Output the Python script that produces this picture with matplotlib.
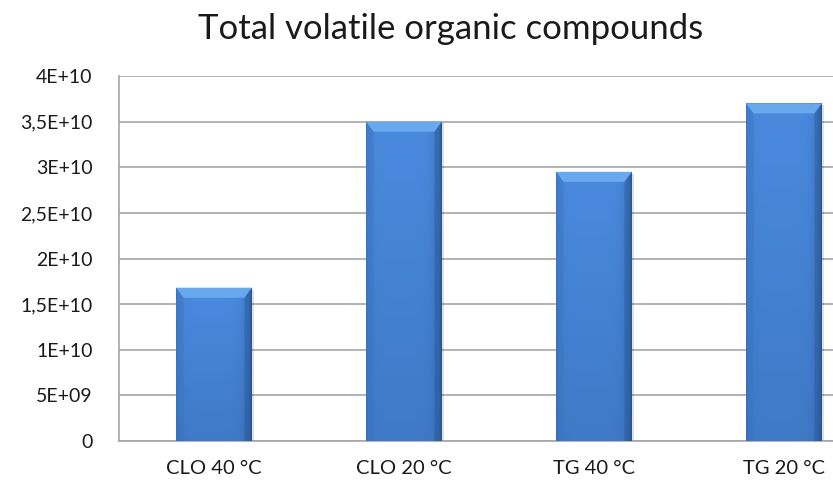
import matplotlib

matplotlib.use("Agg")
import matplotlib.pyplot as plt
import numpy as np
from matplotlib.colors import to_rgb
from matplotlib.patches import Polygon
from matplotlib.ticker import FuncFormatter, MultipleLocator

# values
categories = ["CLO 40 °C", "CLO 20 °C", "TG 40 °C", "TG 20 °C"]
tvoc = [1.68e10, 3.50e10, 2.95e10, 3.70e10]

plt.rcParams["font.family"] = ["Lato", "DejaVu Sans"]

BAR_WIDTH = 0.4
LIGHT = np.array(to_rgb("#4a8ade"))
DARK = np.array(to_rgb("#24508c"))


def excel_sci(v, _pos):
    # Excel style: 3,5E+10 / 5E+09 / 0
    if v == 0:
        return "0"
    exp = int(np.floor(np.log10(abs(v))))
    mant = v / 10 ** exp
    mant_txt = f"{mant:.1f}".rstrip("0").rstrip(".").replace(".", ",")
    return f"{mant_txt}E+{exp:02d}"


def bar_gradient():
    # horizontal profile: dark rims, bright a bit left of centre
    x = np.linspace(0, 1, 200)
    prof = 1 - 0.55 * np.clip(np.abs(x - 0.45) / 0.55, 0, 1) ** 6
    prof[:3] *= 0.8
    prof[-4:] *= 0.55
    # vertical: darker towards the base
    y = np.linspace(0, 1, 200)[:, None]
    shade = (0.72 + 0.28 * y) * prof[None, :]
    img = DARK + (LIGHT - DARK) * shade[..., None]
    return np.clip(img, 0, 1)


fig = plt.figure(figsize=(8.33, 4.86), dpi=100)
# the reference is cropped at the right edge, so the axes run past the figure
ax = fig.add_axes([119 / 833, 1 - 441 / 486, 760 / 833, 365 / 486])

xpos = np.arange(len(categories))
bars = ax.bar(xpos, tvoc, width=BAR_WIDTH, color="none", zorder=3)
grad = bar_gradient()

bevel_x = 0.04
bevel_y = 0.11e10
for rect in bars:
    x0, w, h = rect.get_x(), rect.get_width(), rect.get_height()
    # soft drop shadow
    ax.add_patch(plt.Rectangle((x0 + 0.012, 0), w, h - 0.02e10, color="#000000",
                               alpha=0.12, lw=0, zorder=2))
    im = ax.imshow(grad, extent=(x0, x0 + w, 0, h), origin="lower",
                   aspect="auto", zorder=3, interpolation="bilinear")
    im.set_clip_path(rect)
    # bevelled top
    ax.add_patch(Polygon([(x0, h), (x0 + w, h), (x0 + w - bevel_x, h - bevel_y),
                          (x0 + bevel_x, h - bevel_y)], closed=True,
                         color="#6aa8ee", lw=0, zorder=4))
    ax.add_patch(Polygon([(x0, h), (x0 + bevel_x, h - bevel_y), (x0 + bevel_x, 0),
                          (x0, 0)], closed=True, color="#3a74bd", lw=0, zorder=4, alpha=0.4))
    ax.add_patch(Polygon([(x0 + w, h), (x0 + w - bevel_x, h - bevel_y),
                          (x0 + w - bevel_x, 0), (x0 + w, 0)], closed=True,
                         color="#1f4a82", lw=0, zorder=4, alpha=0.3))

ax.set_xlim(-0.5, len(categories) - 0.5)
ax.set_ylim(0, 4e10)
ax.yaxis.set_major_locator(MultipleLocator(5e9))
ax.yaxis.set_major_formatter(FuncFormatter(excel_sci))
ax.set_xticks(xpos)
ax.set_xticklabels(categories)
ax.tick_params(length=0, colors="#1a1a1a")
ax.tick_params(axis="y", labelsize=14, pad=19)
ax.tick_params(axis="x", labelsize=14.5, pad=14)

ax.grid(axis="y", color="#a6a6a6", lw=1.2, zorder=0)
ax.set_axisbelow(True)
for side in ("top", "right"):
    ax.spines[side].set_visible(False)
for side in ("left", "bottom"):
    ax.spines[side].set_color("#a6a6a6")
    ax.spines[side].set_linewidth(1.2)

fig.text(451 / 833, 1 - 29 / 486, "Total volatile organic compounds",
         ha="center", va="center", fontsize=25, color="#1a1a1a")

fig.savefig("out.png", dpi=100)
